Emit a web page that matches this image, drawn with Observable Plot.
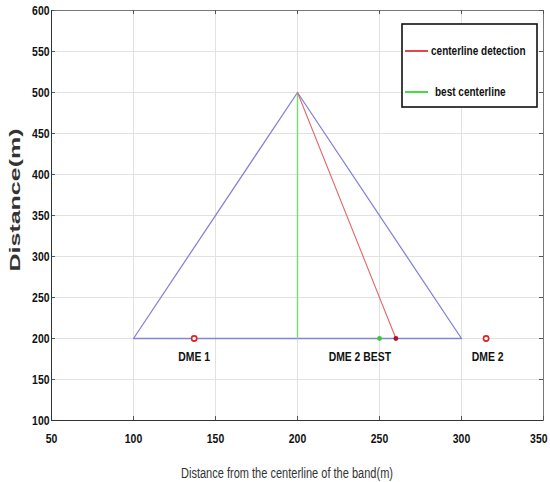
<!DOCTYPE html>
<html>
<head>
<meta charset="utf-8">
<script src="https://cdn.jsdelivr.net/npm/d3@7"></script>
<script src="https://cdn.jsdelivr.net/npm/@observablehq/plot@0.6"></script>
<style>
  html, body { margin: 0; padding: 0; background: #fff; }
  #chart { width: 550px; height: 482px; }
</style>
</head>
<body>
<div id="chart"></div>
<script>
// ---- data ----
const xTicks = [50, 100, 150, 200, 250, 300, 350];
const yTicks = [100, 150, 200, 250, 300, 350, 400, 450, 500, 550, 600];

const bandX = [100, 200, 300, 100];
const bandY = [200, 500, 200, 200];

const bestLineX = [200, 200];
const bestLineY = [500, 200];

const detectLineX = [200, 260];
const detectLineY = [500, 200];

const dmeX = [137, 315];
const dmeY = [200, 200];

const bestPointX = [250];
const bestPointY = [200];
const detectPointX = [260];
const detectPointY = [200];

const labelText = ["DME 1", "DME 2 BEST", "DME 2"];
const labelX = [137, 238, 316];
const labelY = [200, 200, 200];

const legendNames = ["centerline detection", "best centerline"];
const legendColors = ["#e26868", "#70e070"];

const xTitle = "Distance from the centerline of the band(m)";
const yTitle = "Distance(m)";

// ---- build ----
const pts = (xs, ys) => xs.map((x, i) => ({x, y: ys[i]}));
const font = "'Liberation Sans',Arial,Helvetica,sans-serif";

const W = 550, H = 482, mL = 51, mR = 7, mT = 10, mB = 62;
const fw = W - mL - mR, fh = H - mT - mB;

const plot = Plot.plot({
  width: W,
  height: H,
  marginLeft: mL,
  marginRight: mR,
  marginTop: mT,
  marginBottom: mB,
  style: {fontFamily: font, background: "#fff", color: "#111"},
  x: {domain: [50, 350], ticks: xTicks},
  y: {domain: [100, 600], ticks: yTicks},
  marks: [
    Plot.gridX(xTicks, {stroke: "#e2e2e2", strokeOpacity: 1}),
    Plot.gridY(yTicks, {stroke: "#e2e2e2", strokeOpacity: 1}),
    Plot.frame({stroke: "#777"}),
    Plot.tickX(xTicks, {x: d => d, insetTop: fh - 4, stroke: "#555"}),
    Plot.tickX(xTicks, {x: d => d, insetBottom: fh - 4, stroke: "#555"}),
    Plot.tickY(yTicks, {y: d => d, insetRight: fw - 4, stroke: "#555"}),
    Plot.tickY(yTicks, {y: d => d, insetLeft: fw - 4, stroke: "#555"}),
    Plot.ruleX([50], {stroke: "#333"}),
    Plot.ruleY([100], {stroke: "#333"}),
    Plot.axisX(xTicks, {tickSize: 0, tickPadding: 13, label: null, fontSize: 13, fontWeight: "bold", fill: "#111"}),
    Plot.axisY(yTicks, {tickSize: 0, tickPadding: 2, label: null, fontSize: 13, fontWeight: "bold", fill: "#111"}),
    Plot.line(pts(bandX, bandY), {x: "x", y: "y", stroke: "#8585d6", strokeWidth: 1.3}),
    Plot.line(pts(bestLineX, bestLineY), {x: "x", y: "y", stroke: legendColors[1], strokeWidth: 1.4}),
    Plot.line(pts(detectLineX, detectLineY), {x: "x", y: "y", stroke: legendColors[0], strokeWidth: 1.1}),
    Plot.dot(pts(dmeX, dmeY), {x: "x", y: "y", r: 2.6, stroke: "#e02020", strokeWidth: 1.6, fill: "#fff"}),
    Plot.dot(pts(bestPointX, bestPointY), {x: "x", y: "y", r: 2.4, fill: "#33cc33", stroke: "none"}),
    Plot.dot(pts(detectPointX, detectPointY), {x: "x", y: "y", r: 2.4, fill: "#b0102c", stroke: "none"}),
    Plot.text(labelText.map((t, i) => ({t, x: labelX[i], y: labelY[i]})), {
      x: "x", y: "y", text: "t", dy: 18, fontSize: 13, fontWeight: "bold", fill: "#111"
    })
  ]
});

const svg = d3.select(plot);

// axis titles
svg.append("text").attr("class", "title")
  .attr("transform", "translate(287,473)")
  .attr("text-anchor", "middle").attr("dy", "0.35em")
  .attr("font-family", font).attr("font-size", 14).attr("fill", "#333")
  .attr("textLength", 212).attr("lengthAdjust", "spacingAndGlyphs")
  .text(xTitle);
svg.append("text").attr("class", "title")
  .attr("transform", "translate(15,200) rotate(-90)")
  .attr("text-anchor", "middle").attr("dy", "0.35em")
  .attr("font-family", font).attr("font-size", 15).attr("font-weight", "bold").attr("fill", "#333")
  .attr("textLength", 143).attr("lengthAdjust", "spacingAndGlyphs")
  .text(yTitle);

// legend box
const lg = svg.append("g").attr("font-family", font);
lg.append("rect").attr("x", 402).attr("y", 24).attr("width", 135).attr("height", 83)
  .attr("fill", "#fff").attr("stroke", "#111").attr("stroke-width", 1.6);
const rowY = [51, 92];
const textX = [431, 435];
legendNames.forEach((name, i) => {
  lg.append("line").attr("x1", 405).attr("x2", 428).attr("y1", rowY[i]).attr("y2", rowY[i])
    .attr("stroke", i === 0 ? "#e04848" : "#44dd44").attr("stroke-width", 2);
  lg.append("text").attr("x", textX[i]).attr("y", rowY[i]).attr("dy", "0.35em")
    .attr("text-anchor", "start")
    .attr("font-size", 12.5).attr("font-weight", "bold").attr("fill", "#111").text(name);
});

document.getElementById("chart").appendChild(plot);

// condense all other texts to mimic a narrow typeface
plot.querySelectorAll("text").forEach(t => {
  if (t.classList.contains("title")) return;
  const L = t.getComputedTextLength();
  if (L > 0) {
    t.setAttribute("textLength", (L * 0.8).toFixed(1));
    t.setAttribute("lengthAdjust", "spacingAndGlyphs");
  }
  const label = (t.parentNode && t.parentNode.getAttribute("aria-label")) || "";
  if (label.startsWith("x-axis") && t.textContent === "350") {
    t.setAttribute("text-anchor", "end");
    t.setAttribute("dx", 4);
  }
});
</script>
</body>
</html>
